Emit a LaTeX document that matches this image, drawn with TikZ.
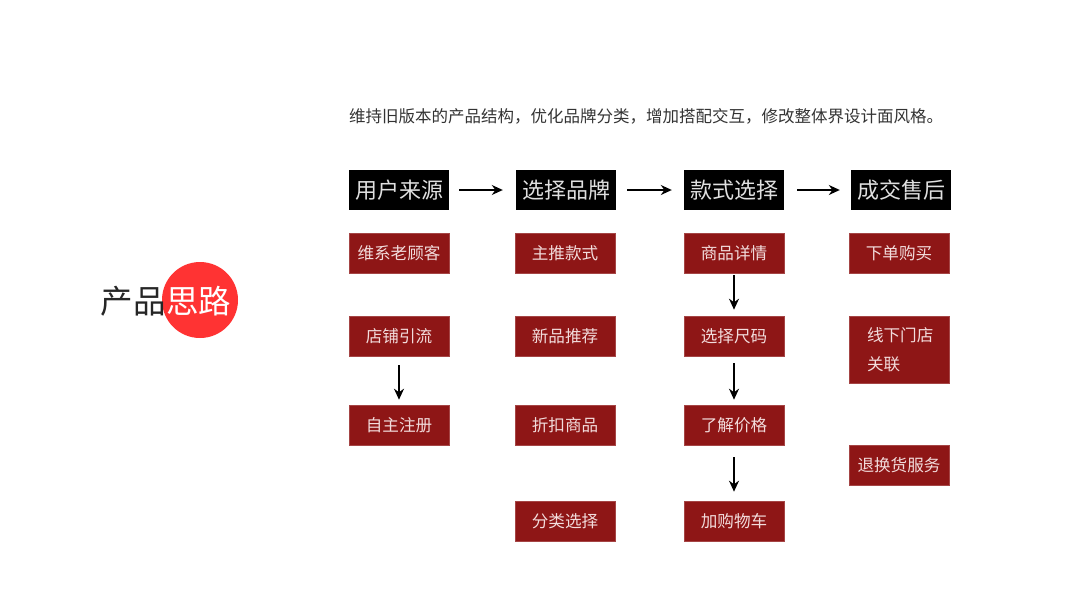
\documentclass[tikz,border=0pt]{standalone}
\usepackage{fontspec}
\newfontfamily\cjk{Noto Sans CJK SC}
\usetikzlibrary{arrows.meta}
\definecolor{boxred}{HTML}{8E1616}
\definecolor{circred}{HTML}{FF3333}
\definecolor{txtgray}{HTML}{333333}
\definecolor{boxtxt}{HTML}{F2DCDC}
\tikzset{
  headbox/.style={fill=black, text=white!88!black, minimum width=100pt, minimum height=40pt, inner sep=0pt, font=\cjk\fontsize{22}{25}\selectfont},
  itembox/.style={fill=boxred, draw=boxred!80!white, line width=0.6pt, text=boxtxt, minimum width=100pt, minimum height=40pt, inner sep=0pt, font=\cjk\fontsize{16.6}{19}\selectfont},
  flow/.style={line width=1.6pt, -{Stealth[length=11pt,width=10pt]}},
}
\begin{document}
\begin{tikzpicture}[x=1pt,y=-1pt]
\useasboundingbox (0,0) rectangle (1067,600);
% title line
\node[anchor=west, text=txtgray, font=\cjk\fontsize{16.5}{19}\selectfont, inner sep=0pt] (intro) at (349,116) {维持旧版本的产品结构，优化品牌分类，增加搭配交互，修改整体界设计面风格。};
% left title
\node[circle, fill=circred, minimum size=76pt, inner sep=0pt] (circ) at (200,300) {};
\node[anchor=east, font=\cjk\fontsize{32.5}{36}\selectfont, text=black!85, inner sep=0pt] (t1) at (166,301) {产品};
\node[anchor=west, font=\cjk\fontsize{32.5}{36}\selectfont, text=white, inner sep=0pt] (t2) at (166,301) {思路};
% headers
\node[headbox] (h1) at (399,190) {用户来源};
\node[headbox] (h2) at (566,190) {选择品牌};
\node[headbox] (h3) at (734,190) {款式选择};
\node[headbox] (h4) at (901,190) {成交售后};
\draw[flow] ([xshift=10pt]h1.east) -- ([xshift=-13pt]h2.west);
\draw[flow] ([xshift=11pt]h2.east) -- ([xshift=-12pt]h3.west);
\draw[flow] ([xshift=13pt]h3.east) -- ([xshift=-11pt]h4.west);
% column 1
\node[itembox] (a1) at (399,253) {维系老顾客};
\node[itembox] (a2) at (399,336) {店铺引流};
\node[itembox] (a3) at (399,425) {自主注册};
\draw[flow] ([yshift=-9pt]a2.south) -- ([yshift=5pt]a3.north);
% column 2
\node[itembox] (b1) at (565,253) {主推款式};
\node[itembox] (b2) at (565,336) {新品推荐};
\node[itembox] (b3) at (565,425) {折扣商品};
\node[itembox] (b4) at (565,521) {分类选择};
% column 3
\node[itembox] (c1) at (734,253) {商品详情};
\node[itembox] (c2) at (734,336) {选择尺码};
\node[itembox] (c3) at (734,425) {了解价格};
\node[itembox] (c4) at (734,521) {加购物车};
\draw[flow] ([yshift=-2pt]c1.south) -- ([yshift=6pt]c2.north);
\draw[flow] ([yshift=-7pt]c2.south) -- ([yshift=5pt]c3.north);
\draw[flow] ([yshift=-12pt]c3.south) -- ([yshift=9pt]c4.north);
% column 4
\node[itembox] (d1) at (899,253) {下单购买};
\node[itembox, minimum height=67pt, align=left, text width=64pt, font=\cjk\fontsize{16.6}{29}\selectfont] (d2) at (899,349.5) {线下门店\\关联};
\node[itembox] (d3) at (899,465) {退换货服务};
\end{tikzpicture}
\end{document}
